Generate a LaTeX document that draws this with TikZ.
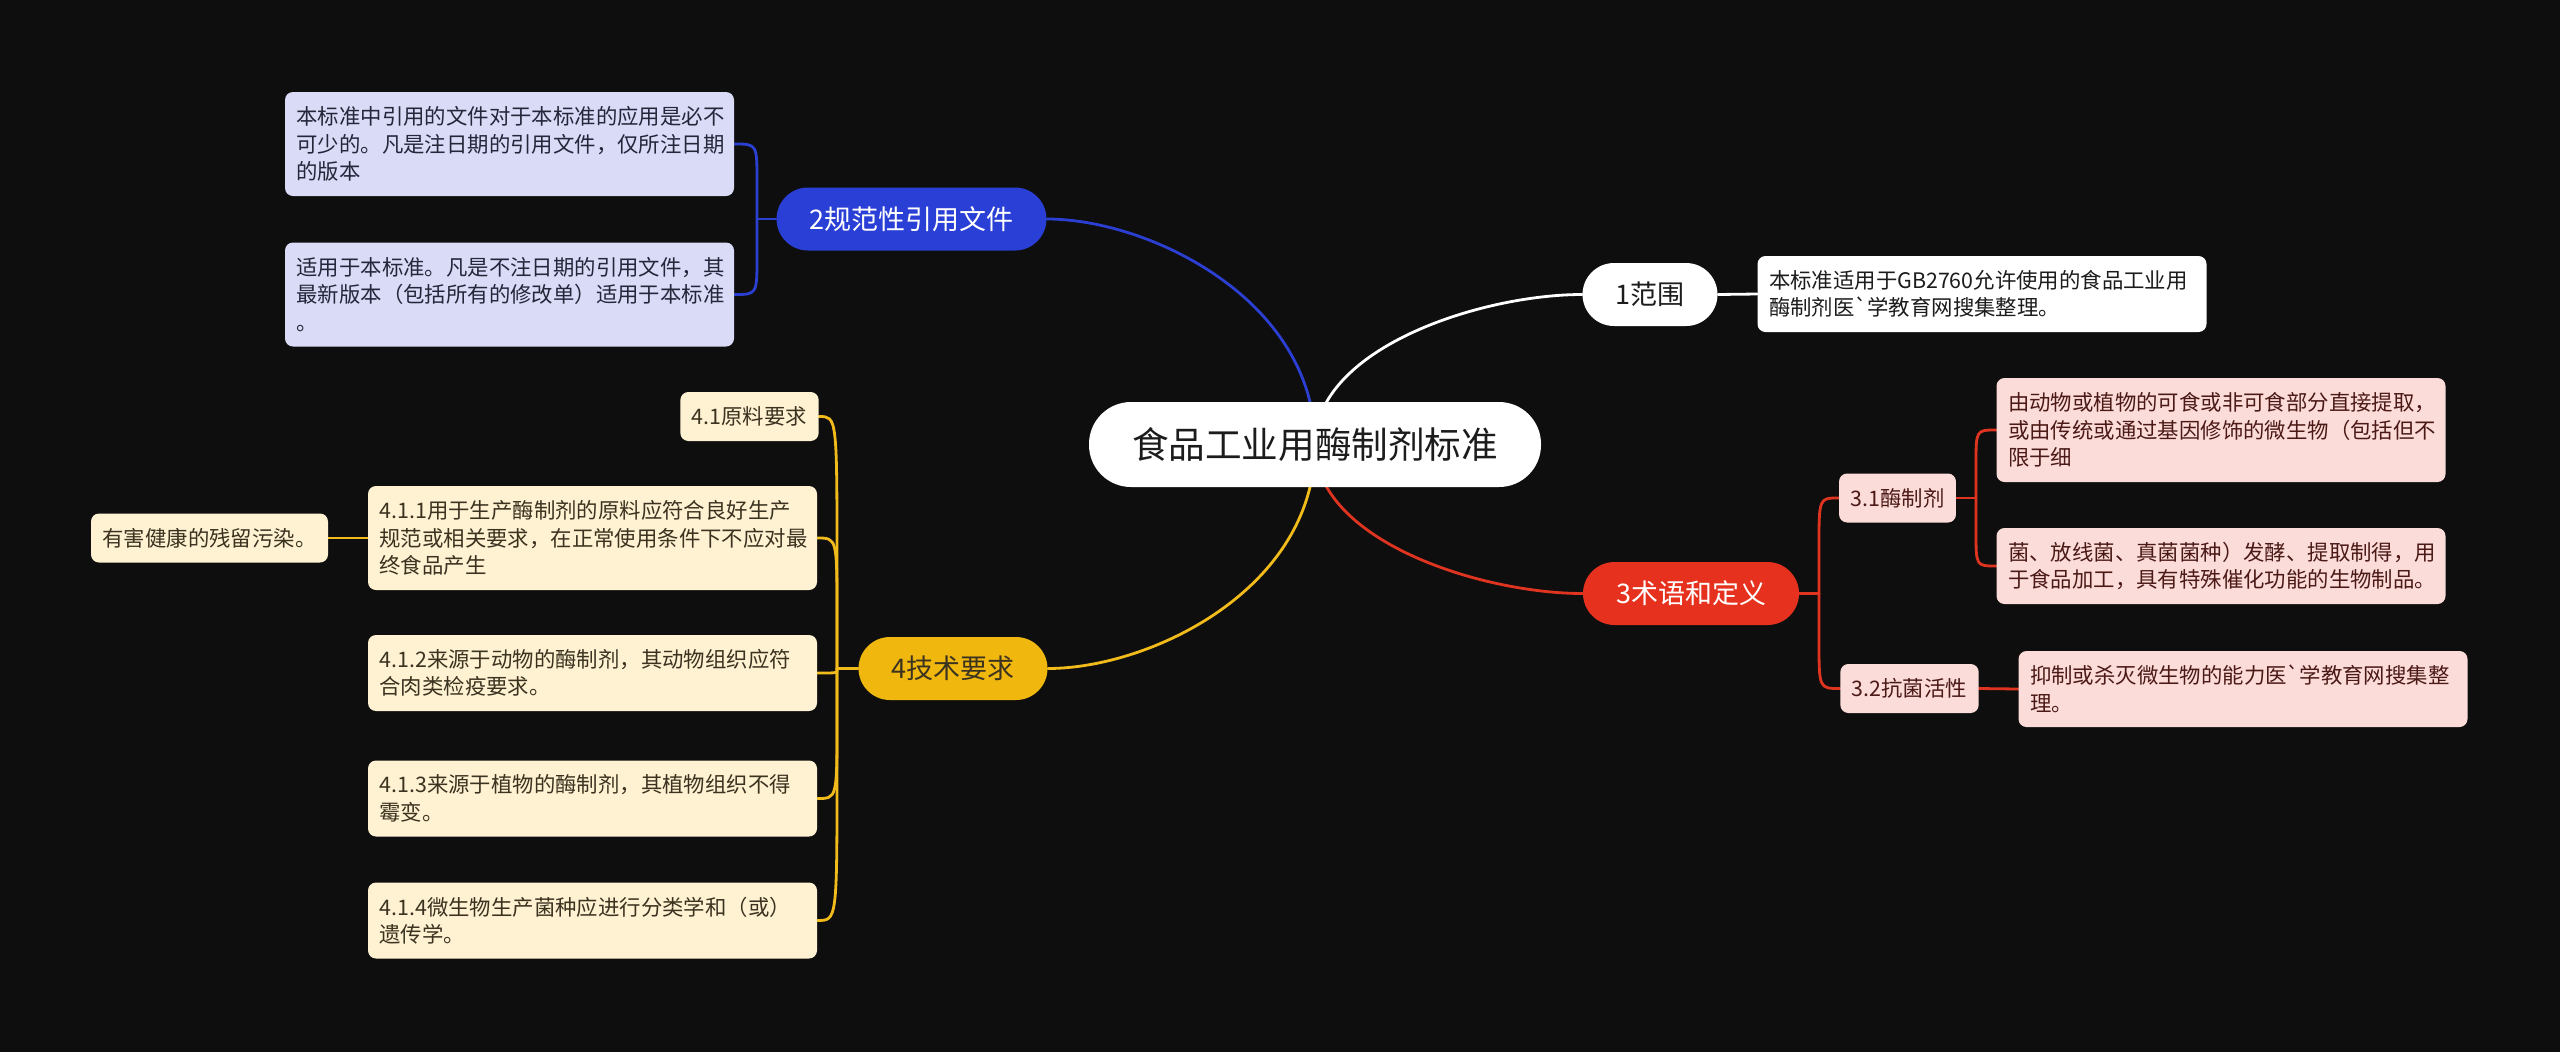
\documentclass[tikz,border=0pt]{standalone}
\usepackage{fontspec}
\newfontfamily\cjk{Noto Sans CJK SC}
\usetikzlibrary{calc}
\definecolor{bgcol}{HTML}{0E0E0E}
\definecolor{rootink}{HTML}{1C1C1C}
\definecolor{bluenode}{HTML}{2A3FD6}
\definecolor{blueleaf}{HTML}{D9DBF7}
\definecolor{blueink}{HTML}{25263A}
\definecolor{blueline}{HTML}{2B3FD3}
\definecolor{rednode}{HTML}{E5311E}
\definecolor{redleaf}{HTML}{FCDCD9}
\definecolor{redink}{HTML}{4B1A16}
\definecolor{redline}{HTML}{DF3420}
\definecolor{yelnode}{HTML}{F0B70F}
\definecolor{yelleaf}{HTML}{FEF2D3}
\definecolor{yelink}{HTML}{3B3320}
\definecolor{yelline}{HTML}{F2BB1C}
\pgfdeclarelayer{bg}
\pgfsetlayers{bg,main}
\tikzset{
  root/.style={fill=white, text=rootink, rounded corners=21pt, minimum width=226pt,
    minimum height=42.5pt, font=\cjk\fontsize{18.3}{22}\selectfont},
  topic/.style={rounded corners=15.75pt, minimum height=31.5pt, inner xsep=16.5pt,
    font=\cjk\fontsize{13.5}{16}\selectfont},
  leaf/.style={rounded corners=4pt, inner xsep=5.75pt, inner ysep=5pt, align=left,
    minimum height=24.5pt, font=\cjk\fontsize{10.7}{13.7}\selectfont},
  wide/.style={leaf, text width=213pt},
  twol/.style={wide, minimum height=38pt},
  threel/.style={wide, minimum height=52pt},
  bluebox/.style={fill=blueleaf, text=blueink},
  redbox/.style={fill=redleaf, text=redink},
  yelbox/.style={fill=yelleaf, text=yelink},
  link/.style={line width=1.4pt, line cap=round},
}
\begin{document}
\begin{tikzpicture}[x=0.5pt, y=-0.5pt]
  \useasboundingbox (0,0) rectangle (2560,1051);
  \begin{pgfonlayer}{bg}
    \fill[bgcol] (-20,-20) rectangle (2580,1071);
  \end{pgfonlayer}

  \node[root] (cen) at (1315,444.5) {食品工业用酶制剂标准};

  \node[topic, fill=bluenode, text=white] (n2) at (911.5,219) {2规范性引用文件};
  \node[topic, fill=white, text=rootink] (n1) at (1650,294.5) {1范围};
  \node[topic, fill=rednode, text=white] (n3) at (1691,593.5) {3术语和定义};
  \node[topic, fill=yelnode, text=yelink] (n4) at (953,668.5) {4技术要求};

  \node[threel, bluebox] (r2a) at (509.5,144) {本标准中引用的文件对于本标准的应用是必不\\可少的。凡是注日期的引用文件，仅所注日期\\的版本};
  \node[threel, bluebox] (r2b) at (509.5,294.5) {适用于本标准。凡是不注日期的引用文件，其\\最新版本（包括所有的修改单）适用于本标准\\。};

  \node[twol, fill=white, text=rootink] (r1a) at (1982,294) {本标准适用于GB2760允许使用的食品工业用\\酶制剂医\symbol{96}学教育网搜集整理。};

  \node[leaf, redbox] (r31) at (1897.5,498) {3.1酶制剂};
  \node[leaf, redbox] (r32) at (1909.5,688.5) {3.2抗菌活性};
  \node[threel, redbox] (r31a) at (2221,430) {由动物或植物的可食或非可食部分直接提取，\\或由传统或通过基因修饰的微生物（包括但不\\限于细};
  \node[twol, redbox] (r31b) at (2221,566) {菌、放线菌、真菌菌种）发酵、提取制得，用\\于食品加工，具有特殊催化功能的生物制品。};
  \node[twol, redbox] (r32a) at (2243,689) {抑制或杀灭微生物的能力医\symbol{96}学教育网搜集整\\理。};

  \node[leaf, yelbox] (r41) at (749.5,416.5) {4.1原料要求};
  \node[threel, yelbox] (r411) at (592.5,538) {4.1.1用于生产酶制剂的原料应符合良好生产\\规范或相关要求，在正常使用条件下不应对最\\终食品产生};
  \node[leaf, yelbox] (r411x) at (209.5,538) {有害健康的残留污染。};
  \node[twol, yelbox] (r412) at (592.5,673) {4.1.2来源于动物的酶制剂，其动物组织应符\\合肉类检疫要求。};
  \node[twol, yelbox] (r413) at (592.5,798.5) {4.1.3来源于植物的酶制剂，其植物组织不得\\霉变。};
  \node[twol, yelbox] (r414) at (592.5,920.5) {4.1.4微生物生产菌种应进行分类学和（或）\\遗传学。};

  \coordinate (j2) at (757,219);
  \coordinate (j3) at (1819,593.5);
  \coordinate (j31) at (1976,498);
  \coordinate (j4) at (837,668.5);

  \begin{pgfonlayer}{bg}
    \draw[link, blueline] (cen.center) .. controls +(0,-144) and +(103,0) .. (n2.east);
    \draw[link, white] (cen.center) .. controls +(0,-96) and +(-102,0) .. (n1.west);
    \draw[link, redline] (cen.center) .. controls +(0,96) and +(-102,0) .. (n3.west);
    \draw[link, yelline] (cen.center) .. controls +(0,144) and +(103,0) .. (n4.east);

    \draw[link, blueline] (n2.west) -- (j2);
    \foreach \c in {r2a,r2b}
      \draw[link, blueline] (\c.east) .. controls (\c.east -| j2) .. ($(\c.east -| j2)!.5!(j2)$) -- (j2);

    \draw[link, white] (n1.east) -- (r1a.west);

    \draw[link, redline] (n3.east) -- (j3);
    \foreach \c in {r31,r32}
      \draw[link, redline] (\c.west) .. controls (\c.west -| j3) .. ($(\c.west -| j3)!.5!(j3)$) -- (j3);
    \draw[link, redline] (r31.east) -- (j31);
    \foreach \c in {r31a,r31b}
      \draw[link, redline] (\c.west) .. controls (\c.west -| j31) .. ($(\c.west -| j31)!.5!(j31)$) -- (j31);
    \draw[link, redline] (r32.east) -- (r32a.west);

    \draw[link, yelline] (n4.west) -- (j4);
    \foreach \c in {r41,r411,r412,r413,r414}
      \draw[link, yelline] (\c.east) .. controls (\c.east -| j4) .. ($(\c.east -| j4)!.6!(j4)$) -- (j4);
    \draw[link, yelline] (r411.west) -- (r411x.east);
  \end{pgfonlayer}
\end{tikzpicture}
\end{document}
